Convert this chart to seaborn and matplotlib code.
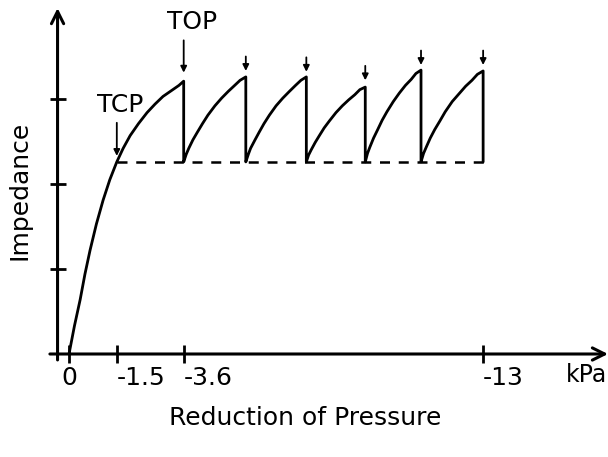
import matplotlib
matplotlib.use("Agg")
import matplotlib.pyplot as plt
import seaborn as sns
import pandas as pd

# ---- data ----
tick_vals = [0, 1.5, 3.6, 13]
tick_labels = ["0", "-1.5", "-3.6", "-13"]
ytick_vals = [1, 2, 3]

baseline = 2.26          # impedance level at TCP (dashed line)
tcp_x = 1.5
dash_end = 13.2

curve0_x = [0, 0.17, 0.35, 0.5, 0.66, 0.86, 1.07, 1.28, 1.5, 1.7, 1.92,
            2.18, 2.45, 2.7, 2.95, 3.22, 3.45, 3.6]
curve0_y = [0, 0.33, 0.64, 0.94, 1.22, 1.53, 1.81, 2.05, 2.26, 2.42, 2.57,
            2.71, 2.84, 2.94, 3.03, 3.10, 3.16, 3.21]

rise2_x = [3.6, 3.68, 3.76, 3.89, 4.03, 4.19, 4.36, 4.58, 4.79, 5.00, 5.20, 5.37, 5.55]
rise2_y = [2.26, 2.35, 2.42, 2.52, 2.61, 2.71, 2.81, 2.92, 3.01, 3.09, 3.16, 3.22, 3.26]
rise3_x = [5.55, 5.63, 5.70, 5.84, 5.97, 6.12, 6.29, 6.50, 6.71, 6.92, 7.11, 7.28, 7.45]
rise3_y = [2.26, 2.35, 2.42, 2.52, 2.61, 2.71, 2.81, 2.92, 3.01, 3.09, 3.16, 3.22, 3.26]
rise4_x = [7.45, 7.52, 7.60, 7.73, 7.86, 8.01, 8.17, 8.38, 8.58, 8.78, 8.97, 9.13, 9.3]
rise4_y = [2.26, 2.34, 2.40, 2.49, 2.57, 2.66, 2.74, 2.84, 2.92, 2.99, 3.05, 3.11, 3.14]
rise5_x = [9.3, 9.37, 9.44, 9.56, 9.69, 9.83, 9.98, 10.18, 10.37, 10.56, 10.74, 10.89, 11.05]
rise5_y = [2.26, 2.36, 2.43, 2.54, 2.64, 2.75, 2.85, 2.97, 3.07, 3.16, 3.23, 3.30, 3.34]
rise6_x = [11.05, 11.13, 11.21, 11.34, 11.48, 11.64, 11.81, 12.03, 12.24, 12.45, 12.65, 12.82, 13.0]
rise6_y = [2.26, 2.36, 2.43, 2.54, 2.64, 2.74, 2.85, 2.97, 3.06, 3.15, 3.22, 3.29, 3.33]

drop_x = [3.6, 5.55, 7.45, 9.3, 11.05, 13.0]
arrow_tip_y = [3.31, 3.33, 3.32, 3.22, 3.40, 3.40]
arrow_tail_y = [3.69, 3.50, 3.49, 3.39, 3.57, 3.57]

# ---- build path ----
px = list(curve0_x)
py = list(curve0_y)
for sx, sy in [(rise2_x, rise2_y), (rise3_x, rise3_y), (rise4_x, rise4_y),
               (rise5_x, rise5_y), (rise6_x, rise6_y)]:
    px += sx
    py += sy
px.append(drop_x[-1])
py.append(baseline)
df = pd.DataFrame({"p": px, "z": py})

sns.set_theme(style="white")
plt.rcParams["font.family"] = ["DejaVu Sans"]
plt.rcParams["text.color"] = "black"
plt.rcParams["axes.labelcolor"] = "black"
plt.rcParams["xtick.color"] = "black"
plt.rcParams["ytick.color"] = "black"

W, H = 608, 457
fig = plt.figure(figsize=(W / 100, H / 100), dpi=100)
x0px, x1px = 45, 608
ytop, ybot = 5.5, 366.75
ax = fig.add_axes([x0px / W, (H - ybot) / H, (x1px - x0px) / W, (ybot - ytop) / H])
ax.set_xlim(-0.754, 16.92)
ax.set_ylim(-0.15, 4.1)

sns.lineplot(data=df, x="p", y="z", sort=False, estimator=None,
             color="black", lw=2.0, ax=ax, solid_joinstyle="round")
sns.lineplot(x=[tcp_x, dash_end], y=[baseline, baseline], color="black",
             lw=1.8, ax=ax, linestyle=(0, (4, 3.5)))

# axes with arrows
yax_x = -0.36
ax.annotate("", xy=(yax_x, 4.07), xytext=(yax_x, -0.07),
            arrowprops=dict(arrowstyle="->", lw=2.2, color="black",
                            mutation_scale=22, shrinkA=0, shrinkB=0))
ax.annotate("", xy=(16.92, 0), xytext=(-0.6, 0),
            arrowprops=dict(arrowstyle="->", lw=2.2, color="black",
                            mutation_scale=22, shrinkA=0, shrinkB=0))

for s in ["top", "right"]:
    ax.spines[s].set_visible(False)
ax.spines["left"].set_position(("data", yax_x))
ax.spines["bottom"].set_position(("data", 0))
ax.spines["left"].set_color("none")
ax.spines["bottom"].set_color("none")

ax.set_xticks(tick_vals)
ax.set_xticklabels(tick_labels)
ax.set_yticks(ytick_vals)
ax.set_yticklabels([])
ax.tick_params(axis="x", direction="inout", length=13, width=2, color="black",
               labelsize=18, pad=2, bottom=True, labelcolor="black")
ax.tick_params(axis="y", direction="inout", length=11, width=2, color="black",
               left=True)
for lbl in ax.get_xticklabels():
    if lbl.get_text().startswith("-"):
        lbl.set_ha("left")

# TOP / TCP arrows
for dx, t0, t1 in zip(drop_x, arrow_tail_y, arrow_tip_y):
    ax.annotate("", xy=(dx, t1), xytext=(dx, t0),
                arrowprops=dict(arrowstyle="-|>", lw=1.3, color="black",
                                mutation_scale=9, shrinkA=0, shrinkB=0))
ax.annotate("", xy=(tcp_x, 2.33), xytext=(tcp_x, 2.72),
            arrowprops=dict(arrowstyle="-|>", lw=1.3, color="black",
                            mutation_scale=9, shrinkA=0, shrinkB=0))

ax.text(3.86, 3.9, "TOP", fontsize=18, ha="center", va="center")
ax.text(1.6, 2.93, "TCP", fontsize=18, ha="center", va="center")
ax.text(16.25, -0.25, "kPa", fontsize=17, ha="center", va="center")

ax.set_xlabel("Reduction of Pressure", fontsize=18)
ax.xaxis.set_label_coords((305 - x0px) / (x1px - x0px), (ybot - 418) / (ybot - ytop))
ax.xaxis.label.set_va("center")
ax.set_ylabel("Impedance", fontsize=18)
ax.yaxis.set_label_coords((20 - x0px) / (x1px - x0px), (ybot - 190) / (ybot - ytop))
ax.yaxis.label.set_va("center")

fig.savefig("out.png", dpi=100)
